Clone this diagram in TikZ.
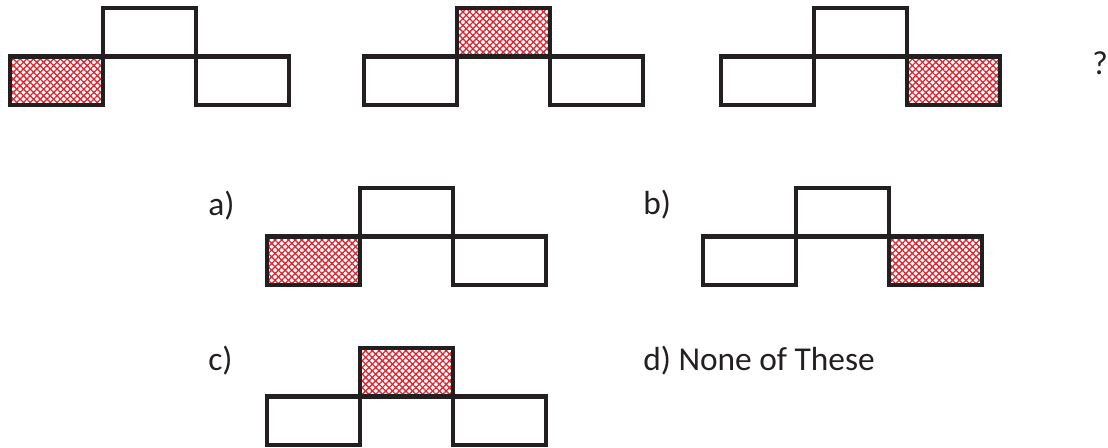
\documentclass[tikz,border=0pt]{standalone}
\usepackage{fontspec}
\setmainfont{Carlito}
\usepackage{tikz}
\usetikzlibrary{positioning,patterns.meta}
\definecolor{hatchred}{RGB}{222,38,48}
\definecolor{boxblack}{RGB}{35,31,32}

\begin{document}
\begin{tikzpicture}[x=0.02cm,y=-0.02cm,
    cell/.style={draw=boxblack, line width=0.085cm, minimum width=1.86cm, minimum height=0.97cm, inner sep=0pt, outer sep=0pt},
    hatched/.style={pattern={Lines[angle=45,distance=2.7pt,line width=.75pt]}, pattern color=hatchred,
        preaction={pattern={Lines[angle=-45,distance=2.7pt,line width=.75pt]}, pattern color=hatchred}},
    lbl/.style={anchor=base west, inner sep=0pt, text=boxblack, font=\fontsize{19}{22}\selectfont}]
    \useasboundingbox (0,0) rectangle (1108,448);
    \node[cell, hatched, anchor=south west] (p1l) at (10,105) {};
    \node[cell, above right=0pt and 0pt of p1l] (p1t) {};
    \node[cell, below right=0pt and 0pt of p1t] (p1r) {};
    \node[cell, anchor=south west] (p2l) at (364,105) {};
    \node[cell, hatched, above right=0pt and 0pt of p2l] (p2t) {};
    \node[cell, below right=0pt and 0pt of p2t] (p2r) {};
    \node[cell, anchor=south west] (p3l) at (721,105) {};
    \node[cell, above right=0pt and 0pt of p3l] (p3t) {};
    \node[cell, hatched, below right=0pt and 0pt of p3t] (p3r) {};
    \node[lbl] (qmark) at (1092,75) {?};
    \node[cell, hatched, anchor=south west] (al) at (267,285) {};
    \node[cell, above right=0pt and 0pt of al] (at) {};
    \node[cell, below right=0pt and 0pt of at] (ar) {};
    \node[lbl] (alabel) at (208,216) {a)};
    \node[cell, anchor=south west] (bl) at (703,285) {};
    \node[cell, above right=0pt and 0pt of bl] (bt) {};
    \node[cell, hatched, below right=0pt and 0pt of bt] (br) {};
    \node[lbl] (blabel) at (643,215) {b)};
    \node[cell, anchor=south west] (cl) at (267,445) {};
    \node[cell, hatched, above right=0pt and 0pt of cl] (ct) {};
    \node[cell, below right=0pt and 0pt of ct] (cr) {};
    \node[lbl] (clabel) at (208,371) {c)};
    \node[lbl] (dlabel) at (643,371) {d) None of These};
\end{tikzpicture}
\end{document}
